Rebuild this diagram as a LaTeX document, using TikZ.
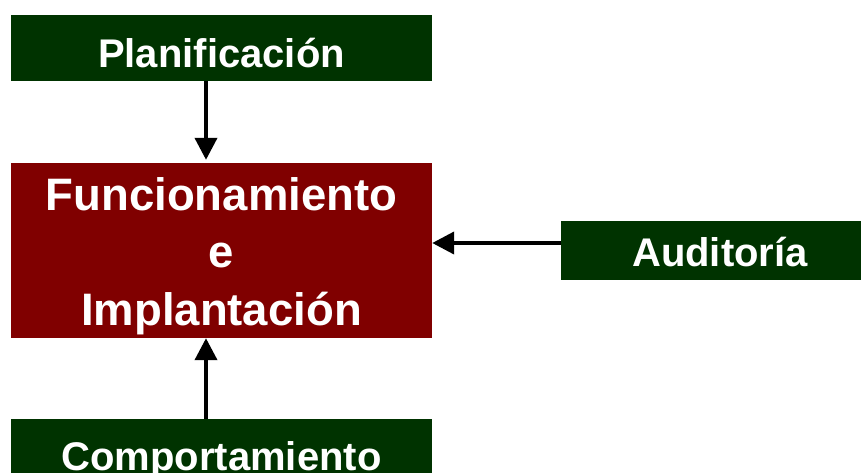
\documentclass[tikz,border=0pt]{standalone}
\usepackage{fontspec}
\setmainfont{Liberation Sans}
\usetikzlibrary{arrows.meta}
\definecolor{boxgreen}{HTML}{003300}
\definecolor{boxred}{HTML}{800000}
\begin{document}
\begin{tikzpicture}[x=1pt,y=-1pt,
  greenbox/.style={fill=boxgreen, draw=none, text=white, inner sep=0pt,
    font=\fontsize{40pt}{46pt}\selectfont\bfseries},
  redbox/.style={fill=boxred, draw=none, text=white, inner sep=0pt, align=center,
    font=\fontsize{45.5pt}{57.5pt}\selectfont\bfseries},
  arr/.style={line width=4pt, -{Triangle[width=22pt,length=22pt]}}]
\useasboundingbox (0,0) rectangle (861,472);
\begin{scope}
\clip (0,0) rectangle (861,472);
\node[greenbox, minimum width=421pt, minimum height=66pt, text height=38pt, text depth=0pt] (plan) at (221.5,48) {Planificación};
\node[redbox, minimum width=421pt, minimum height=175pt, text height=149pt, text depth=0pt] (main) at (221.5,250.5) {Funcionamiento\\e\\Implantación};
\node[greenbox, minimum width=318pt, minimum height=59pt, text height=31pt, text depth=0pt] (aud) at (720,250.5) {Auditoría};
\node[greenbox, minimum width=421pt, minimum height=101pt, text height=29pt, text depth=28pt] (comp) at (221.5,469.5) {Comportamiento};
\end{scope}
\draw[arr, shorten >=3pt] ([xshift=-15.5pt]plan.south) -- ([xshift=-15.5pt]main.north);
\draw[arr] ([yshift=7.5pt]aud.west) -- ([yshift=7.5pt]main.east);
\draw[arr] ([xshift=-15.5pt]comp.north) -- ([xshift=-15.5pt]main.south);
\end{tikzpicture}
\end{document}
